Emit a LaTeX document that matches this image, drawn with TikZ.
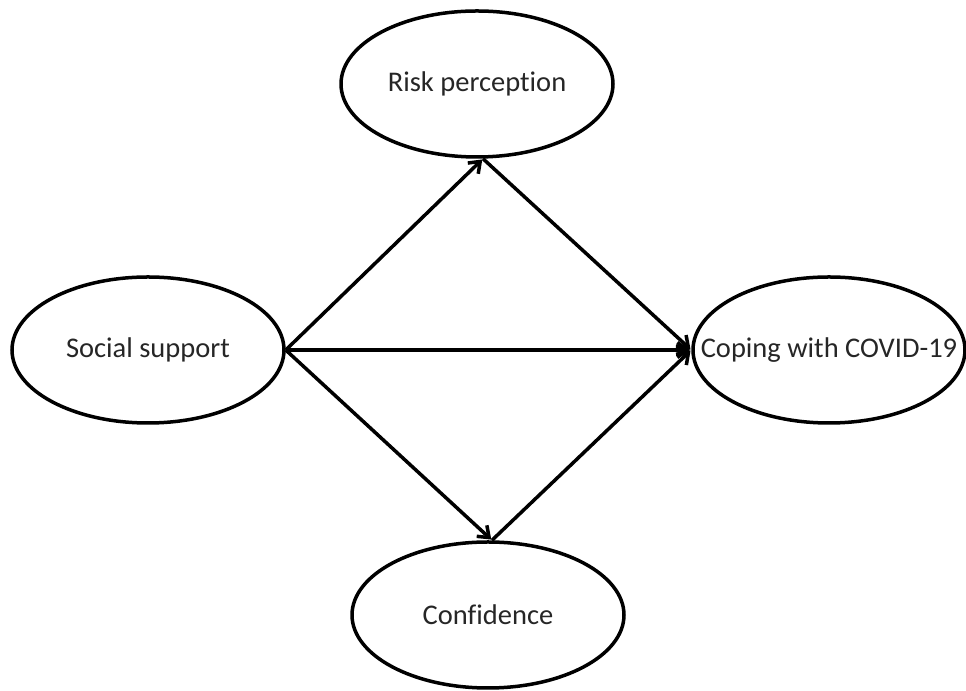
\documentclass[tikz,border=0pt]{standalone}
\usepackage{fontspec}
\setmainfont{Carlito}[Ligatures=CommonOff]
\usetikzlibrary{shapes.geometric,arrows.meta}
\begin{document}
\begin{tikzpicture}[x=1bp,y=1bp,
  var/.style={ellipse,draw=black,line width=3.5bp,minimum width=272bp,minimum height=146bp,inner sep=0pt,
    font=\fontsize{28.5bp}{34bp}\selectfont,text=black!85},
  link/.style={line width=3.5bp,-{Straight Barb[length=10bp,width=15bp]},shorten >=1bp}]
\useasboundingbox (0,0) rectangle (966,691);
\node[var] (RP) at (477,607) {\makebox[0pt]{Risk perception}};
\node[var] (SS) at (148,341) {\makebox[0pt]{Social support}};
\node[var] (CV) at (829,341) {\makebox[0pt]{Coping with COVID-19}};
\node[var] (CF) at (488,76) {\makebox[0pt]{Confidence}};
\draw[link] (SS.east) -- ([xshift=6bp]RP.south);
\draw[link] (SS.east) -- (CV.west);
\draw[link] (SS.east) -- ([xshift=4bp]CF.north);
\draw[link] ([xshift=6bp]RP.south) -- (CV.west);
\draw[link] ([xshift=4bp]CF.north) -- (CV.west);
\end{tikzpicture}
\end{document}
